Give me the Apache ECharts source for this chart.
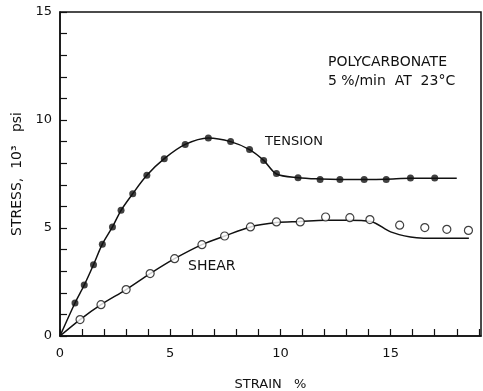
<!DOCTYPE html>
<html><head><meta charset="utf-8">
<script src="https://cdn.jsdelivr.net/npm/echarts@6/dist/echarts.min.js"></script>
<style>html,body{margin:0;padding:0;background:#fff}#c{width:483px;height:391px}</style>
</head><body><div id="c"></div>
<script>
const tensionPoints = [[0.68,1.53],[1.1,2.36],[1.52,3.3],[1.92,4.25],[2.38,5.05],[2.77,5.82],[3.3,6.59],[3.94,7.44],[4.73,8.21],[5.68,8.87],[6.73,9.17],[7.74,9.0],[8.6,8.63],[9.24,8.13],[9.82,7.52],[10.8,7.33],[11.8,7.25],[12.7,7.25],[13.8,7.25],[14.8,7.25],[15.9,7.31],[17.0,7.31]];
const tensionCurve = [[0,0],[0.68,1.53],[1.1,2.36],[1.52,3.3],[1.92,4.25],[2.38,5.05],[2.77,5.82],[3.3,6.59],[3.94,7.44],[4.73,8.21],[5.68,8.87],[6.73,9.17],[7.74,9.0],[8.6,8.63],[9.24,8.13],[9.82,7.5],[10.8,7.33],[11.8,7.27],[12.7,7.25],[13.8,7.25],[14.8,7.26],[15.9,7.3],[17.0,7.3],[18.0,7.3]];
const shearPoints = [[0.91,0.76],[1.86,1.45],[3.0,2.15],[4.09,2.89],[5.2,3.58],[6.44,4.23],[7.47,4.63],[8.64,5.05],[9.82,5.28],[10.9,5.28],[12.05,5.51],[13.15,5.48],[14.06,5.39],[15.41,5.13],[16.55,5.02],[17.55,4.94],[18.53,4.89]];
const shearCurve = [[0,0],[0.91,0.76],[1.86,1.45],[3.0,2.15],[4.09,2.89],[5.2,3.58],[6.44,4.23],[7.47,4.63],[8.64,5.05],[9.82,5.25],[10.9,5.3],[12.0,5.36],[13.0,5.36],[14.1,5.3],[15.0,4.82],[15.9,4.58],[16.5,4.53],[18.55,4.53]];
const xTickLabels = [0,5,10,15];
const yTickLabels = [0,5,10,15];
const xTitle = 'STRAIN   %';
const yTitle = 'STRESS,  10³   psi';
const notes = ['POLYCARBONATE','5 %/min  AT  23°C'];
const seriesLabels = ['TENSION','SHEAR'];

const FONT = 'DejaVu Sans';
const INK = '#111';
const chart = echarts.init(document.getElementById('c'), null, {renderer:'canvas'});
const axisCommon = {
  type:'value', min:0, interval:1,
  axisLine:{show:true, lineStyle:{color:INK, width:1.5}},
  axisTick:{show:true, inside:true, length:7, lineStyle:{color:INK, width:1.2}},
  splitLine:{show:false},
  nameLocation:'middle',
  nameTextStyle:{color:INK, fontFamily:FONT, fontSize:13},
};
chart.setOption({
  animation:false,
  backgroundColor:'#fff',
  grid:{left:60, right:2, top:12, bottom:55, containLabel:false, outerBoundsMode:'none', show:true, borderColor:INK, borderWidth:1.5},
  xAxis:Object.assign({}, axisCommon, {
    max:19.1, name:xTitle, nameGap:42,
    axisLabel:{color:INK, fontFamily:FONT, fontSize:13, margin:11, showMaxLabel:false,
      formatter:v => xTickLabels.includes(v) ? String(v) : ''}
  }),
  yAxis:Object.assign({}, axisCommon, {
    max:15, name:yTitle, nameGap:25,
    nameTextStyle:{color:INK, fontFamily:FONT, fontSize:14},
    axisLabel:{color:INK, fontFamily:FONT, fontSize:13, margin:8,
      formatter:v => yTickLabels.includes(v) ? String(v) : ''}
  }),
  series:[
    {type:'line', data:tensionCurve, smooth:0.3, symbol:'none', lineStyle:{color:INK, width:1.5}, z:2},
    {type:'line', data:shearCurve, smooth:0.3, symbol:'none', lineStyle:{color:INK, width:1.5}, z:2},
    {type:'scatter', data:tensionPoints, symbol:'circle', symbolSize:7, itemStyle:{color:INK}, z:3},
    {type:'scatter', data:shearPoints, symbol:'circle', symbolSize:8, itemStyle:{color:'#fff', borderColor:INK, borderWidth:1.2}, z:3}
  ],
  graphic:[
    {type:'text', left:328, top:55, style:{text:notes[0], fill:INK, font:'14px "DejaVu Sans"'}},
    {type:'text', left:328, top:74, style:{text:notes[1], fill:INK, font:'14px "DejaVu Sans"'}},
    {type:'text', left:265, top:135, style:{text:seriesLabels[0], fill:INK, font:'13px "DejaVu Sans"'}},
    {type:'text', left:188, top:259, style:{text:seriesLabels[1], fill:INK, font:'14px "DejaVu Sans"'}}
  ]
});
</script></body></html>
